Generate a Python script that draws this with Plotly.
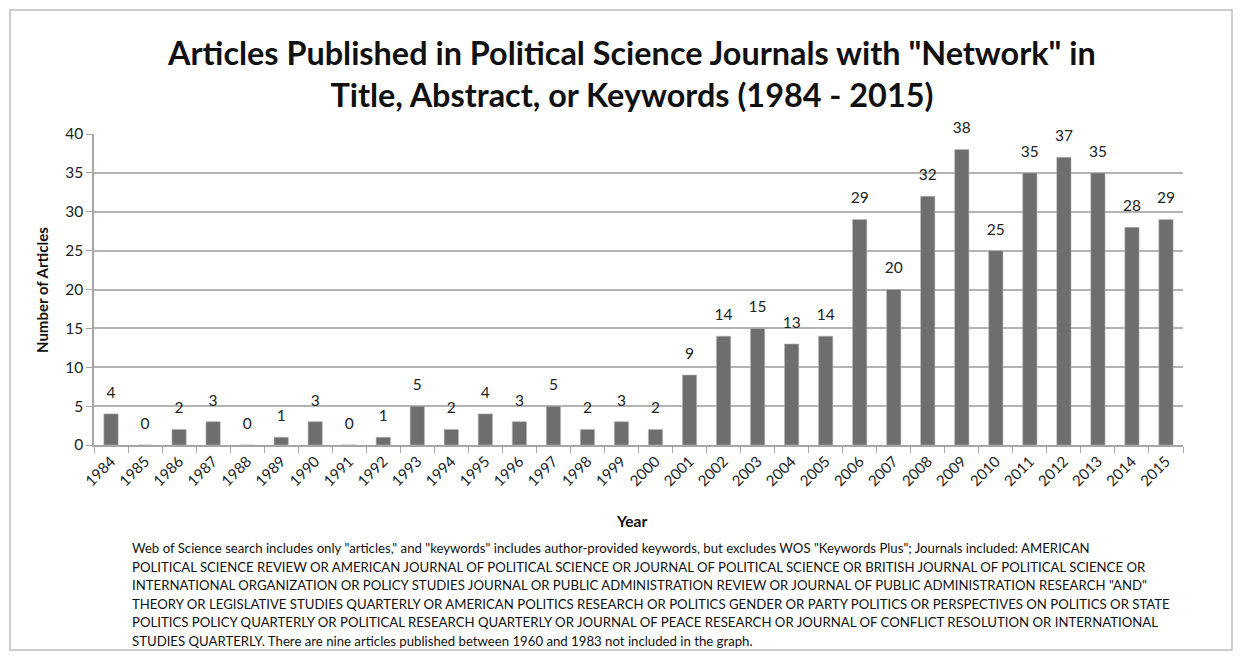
import plotly.graph_objects as go

years = [str(y) for y in range(1984, 2016)]
articles = [4, 0, 2, 3, 0, 1, 3, 0, 1, 5, 2, 4, 3, 5, 2, 3, 2, 9, 14, 15, 13, 14,
            29, 20, 32, 38, 25, 35, 37, 35, 28, 29]

title_text = 'Articles Published in Political Science Journals with "Network" in<br>Title, Abstract, or Keywords (1984 - 2015)'
y_title = "Number of Articles"
x_title = "Year"
note_lines = [
    'Web of Science search includes only "articles," and "keywords" includes author-provided keywords, but excludes WOS "Keywords Plus"; Journals included: AMERICAN',
    'POLITICAL SCIENCE REVIEW OR AMERICAN JOURNAL OF POLITICAL SCIENCE OR JOURNAL OF POLITICAL SCIENCE OR BRITISH JOURNAL OF POLITICAL SCIENCE OR',
    'INTERNATIONAL ORGANIZATION OR POLICY STUDIES JOURNAL OR PUBLIC ADMINISTRATION REVIEW OR JOURNAL OF PUBLIC ADMINISTRATION RESEARCH "AND"',
    'THEORY OR LEGISLATIVE STUDIES QUARTERLY OR AMERICAN POLITICS RESEARCH OR POLITICS GENDER OR PARTY POLITICS OR PERSPECTIVES ON POLITICS OR STATE',
    'POLITICS POLICY QUARTERLY OR POLITICAL RESEARCH QUARTERLY OR JOURNAL OF PEACE RESEARCH OR JOURNAL OF CONFLICT RESOLUTION OR INTERNATIONAL',
    'STUDIES QUARTERLY. There are nine articles published between 1960 and 1983 not included in the graph.',
]

FONT = "Lato"
OFF = 8  # page body margin
W, H = 1244 - 2 * OFF, 659 - 2 * OFF
ml, mt = 94 - OFF, 134 - OFF
mr = W - (1183 - OFF)
mb = H - (445 - OFF)
PW, PH = W - ml - mr, H - mt - mb


def px_x(x):
    return (x - OFF - ml) / PW


def px_y(y):
    return (H - mb - (y - OFF)) / PH


fig = go.Figure()
fig.add_trace(go.Bar(
    x=years, y=articles,
    marker=dict(color="#6e6e6e", line=dict(color="#b8b8b8", width=0.6)),
    hoverinfo="x+y",
))
# data labels, lifted above the bars
fig.add_trace(go.Scatter(
    x=years, y=articles, mode="markers+text",
    marker=dict(size=18, color="rgba(0,0,0,0)"),
    text=[str(v) for v in articles], textposition="top center",
    textfont=dict(family=FONT, size=15.5, color="#222"),
    cliponaxis=False, hoverinfo="skip",
))

fig.update_layout(
    width=W, height=H,
    margin=dict(l=ml, r=mr, t=mt, b=mb, autoexpand=False),
    paper_bgcolor="white", plot_bgcolor="white",
    bargap=0.58,
    showlegend=False,
    xaxis=dict(
        type="category", tickangle=-45, tickson="boundaries",
        range=[-0.5, len(years) - 0.5],
        ticks="outside", ticklen=6, tickcolor="#a6a6a6",
        showline=True, linecolor="#a6a6a6", linewidth=1.5,
        tickfont=dict(family=FONT, size=15, color="#222"),
        showgrid=False,
    ),
    yaxis=dict(
        range=[0, 40], dtick=5, tick0=0,
        ticks="outside", ticklen=6, tickcolor="#a6a6a6",
        showline=True, linecolor="#a6a6a6", linewidth=1.5,
        showgrid=True, gridcolor="#b3b3b3", gridwidth=1.5,
        zeroline=False,
        tickfont=dict(family=FONT, size=15.5, color="#222"),
    ),
)

# chart title
fig.add_annotation(xref="paper", yref="paper", x=px_x(631), y=px_y(74),
                   xanchor="center", yanchor="middle", showarrow=False, text=title_text,
                   font=dict(family=FONT, size=32.4, color="#111", weight="bold"))

# axis titles
fig.add_annotation(xref="paper", yref="paper", x=px_x(631), y=px_y(521),
                   xanchor="center", yanchor="middle", showarrow=False, text=x_title,
                   font=dict(family=FONT, size=15.5, color="#111", weight="bold"))
fig.add_annotation(xref="paper", yref="paper", x=px_x(42), y=px_y(290),
                   xanchor="center", yanchor="middle", showarrow=False, text=y_title,
                   textangle=-90,
                   font=dict(family=FONT, size=15, color="#111", weight="bold"))

# outer chart border
fig.add_shape(type="rect", xref="paper", yref="paper",
              x0=px_x(10), x1=px_x(1232), y0=px_y(650), y1=px_y(10),
              line=dict(color="#bdbdbd", width=1.5), layer="below")

# footnote lines
for i, line in enumerate(note_lines):
    fig.add_annotation(
        xref="paper", yref="paper",
        x=px_x(130), y=px_y(548 + i * 18.6),
        xanchor="left", yanchor="middle",
        text=line, showarrow=False,
        font=dict(family=FONT, size=13.2, color="#111"),
    )

fig.write_html("out.html")
